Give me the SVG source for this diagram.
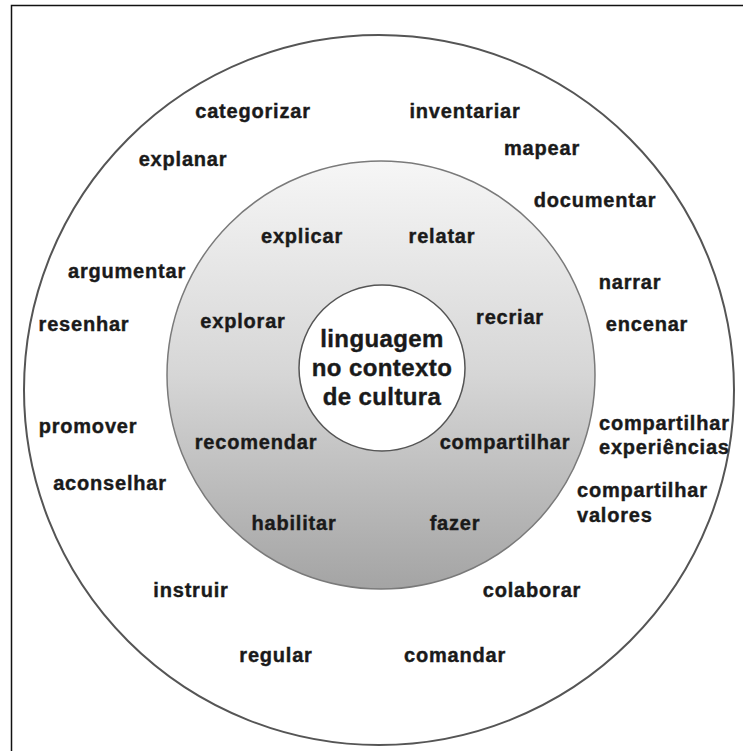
<svg xmlns="http://www.w3.org/2000/svg" width="743" height="751" viewBox="0 0 743 751">
<defs>
<linearGradient id="ringGrad" x1="0" y1="0" x2="0" y2="1">
<stop offset="0" stop-color="#f6f6f6"/>
<stop offset="0.5" stop-color="#d6d6d6"/>
<stop offset="1" stop-color="#a4a4a4"/>
</linearGradient>
</defs>
<style>
.lbl{font-family:"Liberation Sans",Arial,sans-serif;font-weight:bold;font-size:20px;letter-spacing:0.8px;fill:#1a1a1a;stroke:#1a1a1a;stroke-width:0.4px;text-anchor:middle}
.lft{text-anchor:start}
.ctr{font-size:24px;letter-spacing:0.4px}
</style>
<rect width="743" height="751" fill="#ffffff"/>
<rect x="11.5" y="5.5" width="800" height="800" fill="none" stroke="#111" stroke-width="1.5"/>
<g id="outer-ring">
<circle cx="379" cy="390" r="355" fill="#ffffff" stroke="#555" stroke-width="2"/>
<text class="lbl" x="253" y="118">categorizar</text>
<text class="lbl" x="465" y="118">inventariar</text>
<text class="lbl" x="183" y="166">explanar</text>
<text class="lbl" x="542" y="155">mapear</text>
<text class="lbl" x="595" y="207">documentar</text>
<text class="lbl" x="127" y="278">argumentar</text>
<text class="lbl" x="630" y="289">narrar</text>
<text class="lbl" x="84" y="331">resenhar</text>
<text class="lbl" x="647" y="331">encenar</text>
<text class="lbl" x="88" y="433">promover</text>
<text class="lbl lft" x="599" y="430">compartilhar</text>
<text class="lbl lft" x="599" y="454">experiências</text>
<text class="lbl" x="110" y="490">aconselhar</text>
<text class="lbl lft" x="577" y="497">compartilhar</text>
<text class="lbl lft" x="577" y="522">valores</text>
<text class="lbl" x="191" y="597">instruir</text>
<text class="lbl" x="532" y="597">colaborar</text>
<text class="lbl" x="276" y="662">regular</text>
<text class="lbl" x="455" y="662">comandar</text>
</g>
<g id="middle-ring">
<circle cx="381" cy="375" r="214" fill="url(#ringGrad)" stroke="#7a7a7a" stroke-width="1.5"/>
<text class="lbl" x="302" y="243">explicar</text>
<text class="lbl" x="442" y="243">relatar</text>
<text class="lbl" x="243" y="328">explorar</text>
<text class="lbl" x="510" y="324">recriar</text>
<text class="lbl" x="256" y="449">recomendar</text>
<text class="lbl" x="505" y="449">compartilhar</text>
<text class="lbl" x="294" y="530">habilitar</text>
<text class="lbl" x="455" y="530">fazer</text>
</g>
<g id="center">
<circle cx="382" cy="368" r="83" fill="#ffffff" stroke="#555" stroke-width="1.5"/>
<text class="lbl ctr" x="382" y="347">linguagem</text>
<text class="lbl ctr" x="382" y="376">no contexto</text>
<text class="lbl ctr" x="382" y="405">de cultura</text>
</g>
<g id="connectors"/>
</svg>
